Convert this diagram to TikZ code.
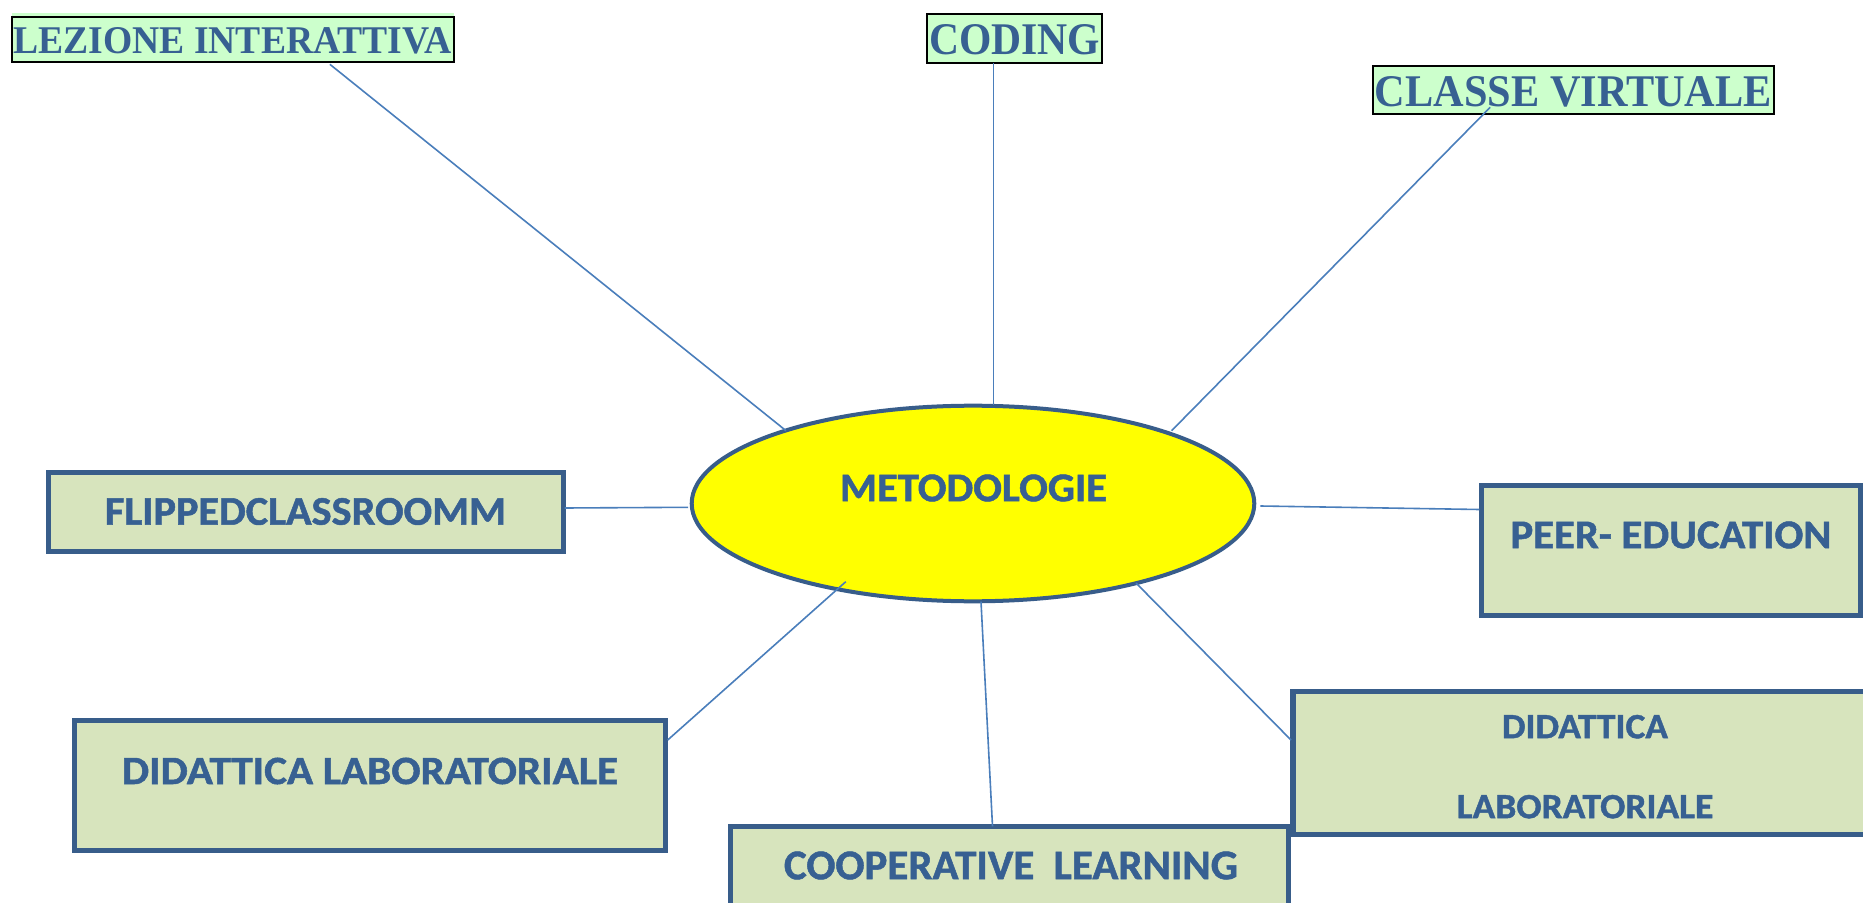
\documentclass[tikz,border=0pt]{standalone}
\usepackage{fontspec}
\usepackage{graphicx}
\setmainfont{Liberation Serif}
\newfontfamily\calib{Carlito}[BoldFeatures={FakeBold=1.2}]
\usetikzlibrary{shapes.geometric,calc}

\definecolor{txtblue}{HTML}{376092}
\definecolor{boxfill}{HTML}{D7E4BD}
\definecolor{boxline}{HTML}{385D8A}
\definecolor{topgreen}{HTML}{CCFFCC}
\definecolor{linkblue}{HTML}{4A7EBB}
\definecolor{hubyellow}{HTML}{FFFF00}

% text squeezed to a given width and cap height
\newcommand{\capsS}[3]{\resizebox{#1pt}{#2pt}{\calib\bfseries #3}}
\newcommand{\capsR}[3]{\resizebox{#1pt}{#2pt}{\bfseries #3}}

\begin{document}
\begin{tikzpicture}[x=0.5pt,y=-0.5pt,
  topbox/.style={draw=black, line width=1.1pt, fill=topgreen, inner sep=0pt, outer sep=0pt},
  mainbox/.style={draw=boxline, line width=2.6pt, fill=boxfill, inner sep=0pt, outer sep=0pt},
  hub/.style={ellipse, draw=boxline, line width=2pt, fill=hubyellow, inner sep=0pt, outer sep=0pt},
  link/.style={draw=linkblue, line width=0.8pt},
  caption/.style={inner sep=0pt, outer sep=0pt, text=txtblue}]

\clip (0,0) rectangle (1863,903);
\fill[white] (0,0) rectangle (1863,903);

% top labels
\node[topbox, minimum width=221.15pt, minimum height=22.65pt] (lez) at (232.9,39.7) {};
\fill[topgreen] ($(lez.north west)+(0,-4)$) rectangle ($(lez.north east)+(0,-1)$);
\node[caption] (lezT) at (232.7,40.8) {\capsR{219.3}{13}{LEZIONE INTERATTIVA}};

\node[topbox, minimum width=87.45pt, minimum height=24.65pt] (cod) at (1014.2,38.3) {};
\node[caption] (codT) at (1014.5,39.7) {\capsR{85.5}{15}{CODING}};

\node[topbox, minimum width=200.5pt, minimum height=24.3pt] (cv) at (1573.2,90) {};
\node[caption] (cvT) at (1573.4,91.7) {\capsR{198.5}{15}{CLASSE VIRTUALE}};

% central ellipse
\node[hub, minimum width=281.3pt, minimum height=97.8pt] (meto) at (973,503.5) {};
\node[caption] (metoT) at (973.5,488) {\capsS{133.5}{13.35}{METODOLOGIE}};

% surrounding boxes
\node[mainbox, minimum width=257.7pt, minimum height=39.7pt] (flip) at (306,512) {};
\node[caption] (flipT) at (305.5,511.5) {\capsS{200.5}{13.35}{FLIPPEDCLASSROOMM}};

\node[mainbox, minimum width=189.7pt, minimum height=65.2pt] (peer) at (1671,550.5) {};
\node[caption] (peerT) at (1671,535) {\capsS{160.4}{13.35}{PEER- EDUCATION}};

\node[mainbox, minimum width=295.7pt, minimum height=65.2pt] (didl) at (370,785.5) {};
\node[caption] (didlT) at (370,771) {\capsS{248}{13.15}{DIDATTICA LABORATORIALE}};

\node[mainbox, minimum width=293.5pt, minimum height=71.7pt] (didr) at (1586.5,763) {};
\node[caption] (didrA) at (1585,726.7) {\capsS{83}{11.65}{DIDATTICA}};
\node[caption] (didrB) at (1585,806.7) {\capsS{128.25}{11.65}{LABORATORIALE}};

\node[mainbox, minimum width=279.2pt, minimum height=44.35pt] (coop) at (1009.5,870.65) {};
\node[caption] (coopT) at (1011,865.5) {\capsS{227}{13.85}{COOPERATIVE\ \ LEARNING}};

% connectors
\draw[link] ($(lez.south)+(97,2)$) -- ($(meto.center)+(-187,-72.8)$);
\draw[link] ($(cod.south)+(-20.8,0)$) -- ($(meto.center)+(20.4,-98.3)$);
\draw[link] ($(cv.south)+(-83,-7)$) -- ($(meto.center)+(198.6,-72.8)$);
\draw[link] ($(flip.east)+(1,-4)$) -- ($(meto.west)+(-3.5,3.8)$);
\draw[link] ($(meto.east)+(6,2.5)$) -- ($(peer.west)+(-2,-41)$);
\draw[link] ($(didl.east)+(2,-45.5)$) -- ($(meto.center)+(-127.2,78.2)$);
\draw[link] ($(meto.center)+(8,98.2)$) -- ($(coop.north)+(-17,0)$);
\draw[link] ($(meto.center)+(163,79.5)$) -- ($(didr.west)+(-2,-23)$);

\end{tikzpicture}
\end{document}
